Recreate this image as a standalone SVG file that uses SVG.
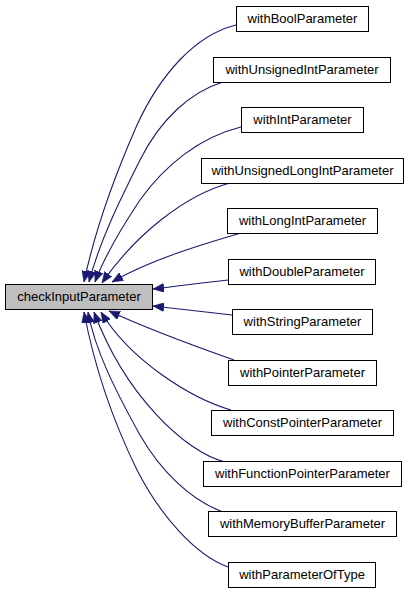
<svg xmlns="http://www.w3.org/2000/svg" width="409" height="595" viewBox="0 0 409 595">
<style>
.box{fill:#ffffff;stroke:#000000;stroke-width:1}
.main{fill:#bfbfbf;stroke:#000000;stroke-width:1}
.lbl{font-family:"Liberation Sans",Arial,Helvetica,sans-serif;font-size:13px;fill:#000000;text-anchor:middle}
.edge{fill:none;stroke:#191970;stroke-width:1.1;marker-end:url(#arr)}
</style>
<defs>
<marker id="arr" markerUnits="userSpaceOnUse" viewBox="0 0 11 9" refX="11" refY="4.5" markerWidth="11" markerHeight="9" orient="auto">
<path d="M0,0 L11,4.5 L0,9 z" fill="#191970" stroke="#191970" stroke-width="0.5"/>
</marker>
</defs>
<rect width="409" height="595" fill="#ffffff"/>
<g id="connectors">
<path class="edge" d="M236,25 C195,35 160,75 137,125 C115,175 95,230 84,282"/>
<path class="edge" d="M223,82 C190,92 160,120 140,160 C120,200 100,240 89,282"/>
<path class="edge" d="M241,127 C200,137 165,165 140,200 C120,230 105,255 95,282"/>
<path class="edge" d="M230,183 C185,195 135,235 102,283"/>
<path class="edge" d="M241,233 C200,245 150,260 112,282"/>
<path class="edge" d="M228,280 C200,283 180,286 153,289"/>
<path class="edge" d="M232,315 C205,312 180,309 153,306"/>
<path class="edge" d="M234,360 C200,348 150,330 109,311"/>
<path class="edge" d="M231,410 C190,398 130,360 101,312"/>
<path class="edge" d="M225,462 C185,452 125,395 94,312"/>
<path class="edge" d="M223,512 C190,500 160,470 140,435 C115,390 95,350 88,312"/>
<path class="edge" d="M228,567 C195,555 160,515 137,470 C115,425 95,370 84,312"/>
</g>
<g id="checkInputParameter">
<rect class="main" x="5.5" y="284.5" width="147" height="25"/>
<text class="lbl" x="79" y="301">checkInputParameter</text>
</g>
<g id="withBoolParameter">
<rect class="box" x="236.5" y="6.5" width="132" height="25"/>
<text class="lbl" x="302.5" y="23">withBoolParameter</text>
</g>
<g id="withUnsignedIntParameter">
<rect class="box" x="213.5" y="57.5" width="177" height="25"/>
<text class="lbl" x="302" y="74">withUnsignedIntParameter</text>
</g>
<g id="withIntParameter">
<rect class="box" x="241.5" y="107.5" width="122" height="25"/>
<text class="lbl" x="302.5" y="124">withIntParameter</text>
</g>
<g id="withUnsignedLongIntParameter">
<rect class="box" x="201.5" y="158.5" width="202" height="25"/>
<text class="lbl" x="302.5" y="175">withUnsignedLongIntParameter</text>
</g>
<g id="withLongIntParameter">
<rect class="box" x="227.5" y="208.5" width="150" height="25"/>
<text class="lbl" x="302.5" y="225">withLongIntParameter</text>
</g>
<g id="withDoubleParameter">
<rect class="box" x="228.5" y="259.5" width="147" height="25"/>
<text class="lbl" x="302" y="276">withDoubleParameter</text>
</g>
<g id="withStringParameter">
<rect class="box" x="232.5" y="309.5" width="140" height="25"/>
<text class="lbl" x="302.5" y="326">withStringParameter</text>
</g>
<g id="withPointerParameter">
<rect class="box" x="228.5" y="360.5" width="148" height="25"/>
<text class="lbl" x="302.5" y="377">withPointerParameter</text>
</g>
<g id="withConstPointerParameter">
<rect class="box" x="211.5" y="410.5" width="182" height="25"/>
<text class="lbl" x="302.5" y="427">withConstPointerParameter</text>
</g>
<g id="withFunctionPointerParameter">
<rect class="box" x="203.5" y="461.5" width="198" height="25"/>
<text class="lbl" x="302.5" y="478">withFunctionPointerParameter</text>
</g>
<g id="withMemoryBufferParameter">
<rect class="box" x="208.5" y="511.5" width="188" height="25"/>
<text class="lbl" x="302.5" y="528">withMemoryBufferParameter</text>
</g>
<g id="withParameterOfType">
<rect class="box" x="228.5" y="562.5" width="147" height="25"/>
<text class="lbl" x="302" y="579">withParameterOfType</text>
</g>
</svg>
